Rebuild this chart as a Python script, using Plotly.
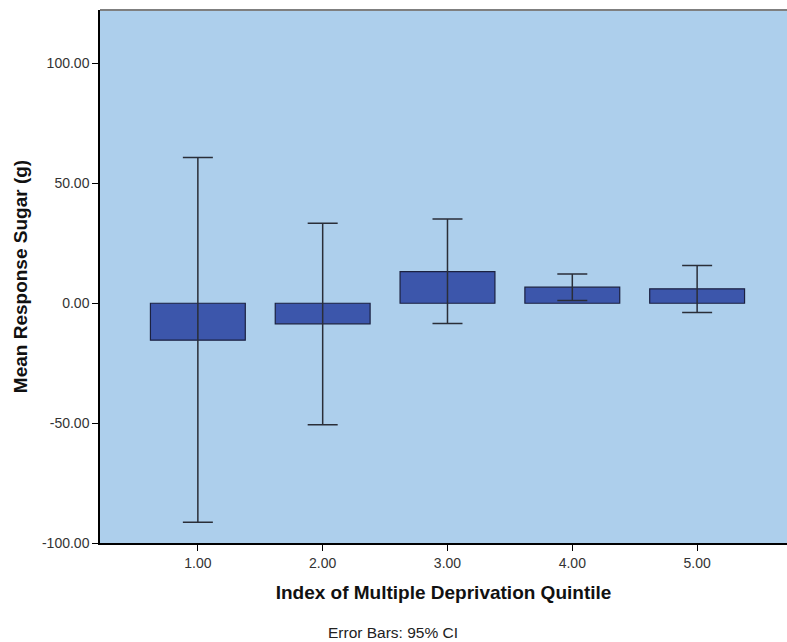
import plotly.graph_objects as go

# quintile means and 95% CI limits
quintiles = [1, 2, 3, 4, 5]
tick_labels = ["1.00", "2.00", "3.00", "4.00", "5.00"]
y_ticks = [-100, -50, 0, 50, 100]
y_tick_labels = ["-100.00", "-50.00", "0.00", "50.00", "100.00"]
means = [-15.4, -8.6, 13.2, 6.7, 6.0]
ci_upper = [60.8, 33.4, 35.1, 12.2, 15.7]
ci_lower = [-91.3, -50.7, -8.5, 1.1, -3.9]

err_plus = [u - m for u, m in zip(ci_upper, means)]
err_minus = [m - l for m, l in zip(means, ci_lower)]

fig = go.Figure()
fig.add_trace(go.Bar(
    x=quintiles, y=means, width=0.76,
    marker=dict(color="#3C56AB", line=dict(color="#1b2140", width=1.2)),
    error_y=dict(type="data", symmetric=False, array=err_plus, arrayminus=err_minus,
                 color="#2a2e38", thickness=1.5, width=15),
    showlegend=False,
))

fig.add_annotation(text="Error Bars: 95% CI", xref="paper", yref="paper",
                   x=(393 - 100) / 687, y=-0.167, yanchor="middle", showarrow=False,
                   font=dict(size=15.5, color="#222"))
# top border of plot area
fig.add_shape(type="line", xref="paper", yref="paper", x0=0, x1=1, y0=1, y1=1,
              line=dict(color="#7f7f7f", width=2))

fig.update_layout(
    width=787, height=642,
    margin=dict(l=100, r=0, t=10, b=99),
    paper_bgcolor="white", plot_bgcolor="#ADCFEC",
    font=dict(family="Liberation Sans, Arial, sans-serif", color="#222"),
    xaxis=dict(range=[0.216, 5.72], tickvals=quintiles, ticktext=tick_labels,
               showgrid=False, zeroline=False, showline=True, linecolor="black", linewidth=1.5,
               ticks="outside", ticklen=6, tickcolor="black", tickfont=dict(size=14, color="#333"),
               title=dict(text="<b>Index of Multiple Deprivation Quintile</b>",
                          font=dict(size=19, color="#111"), standoff=16)),
    yaxis=dict(range=[-100, 122.3], tickvals=y_ticks, ticktext=y_tick_labels,
               showgrid=False, zeroline=False, showline=True, linecolor="black", linewidth=1.5,
               ticks="outside", ticklen=6, tickcolor="black", tickfont=dict(size=14, color="#333"),
               title=dict(text="<b>Mean Response Sugar (g)</b>",
                          font=dict(size=19, color="#111"), standoff=9)),
)

fig.write_html("out.html", config={"displayModeBar": False},
               post_script="document.body.style.margin='0';")
